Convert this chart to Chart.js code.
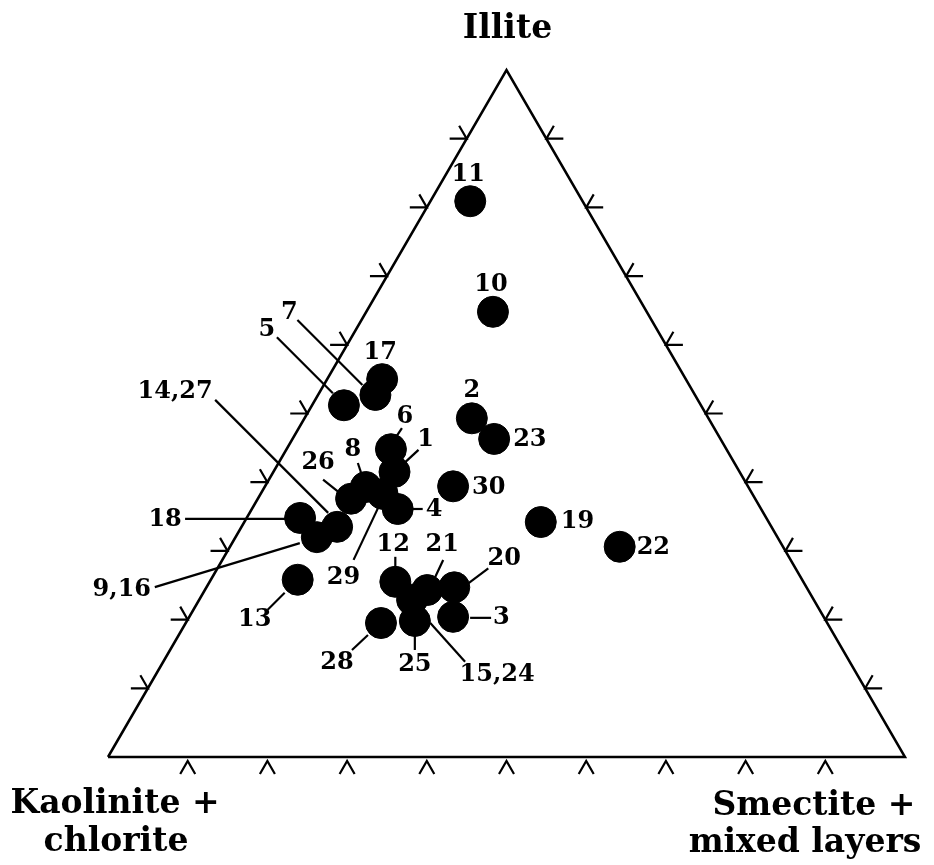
<!DOCTYPE html>
<html>
<head>
<meta charset="utf-8">
<script src="https://cdn.jsdelivr.net/npm/chart.js@4"></script>
<style>
  body { margin: 0; background: #fff; }
  #wrap { width: 934px; height: 865px; }
</style>
</head>
<body>
<div id="wrap"><canvas id="myChart" width="934" height="865"></canvas></div>
<script>
// sample numbers and clay fractions (%)
const samples   = ["11", "10", "17", "7", "5", "2", "23", "6", "1", "30", "8", "29", "26", "4", "18", "19", "14,27", "9,16", "22", "13", "12", "20", "21", "15,24", "3", "25", "28"];
const illite    = [80.9, 64.8, 55.0, 52.7, 51.2, 49.3, 46.3, 44.8, 41.5, 39.4, 39.3, 38.3, 37.6, 36.1, 34.8, 34.2, 33.5, 32.0, 30.6, 25.8, 25.5, 24.7, 24.3, 22.9, 20.4, 19.8, 19.5];
const smectite  = [5.0, 15.9, 6.9, 7.2, 4.0, 21.0, 25.3, 13.1, 15.2, 23.6, 12.7, 15.3, 11.7, 18.3, 6.7, 37.2, 12.0, 10.2, 48.9, 10.9, 23.3, 31.1, 27.9, 26.7, 33.1, 28.6, 24.5];
const kaolinite = illite.map((v, i) => +(100 - v - smectite[i]).toFixed(1));
const tickSteps = [10, 20, 30, 40, 50, 60, 70, 80, 90];

// label placement relative to each point (px): label dx,dy, align, leader line [x1,y1,x2,y2] or null
const labelPos = {
  "11": [-2, -26, "center", null],
  "10": [-2, -27, "center", null],
  "17": [-2, -26, "center", null],
  "7": [-86, -82, "center", [-13, -10, -78, -75]],
  "5": [-77, -75, "center", [-11, -12, -67, -68]],
  "2": [0, -28, "center", null],
  "23": [19, 1, "left", null],
  "6": [14, -32, "center", [5, -12, 11, -21]],
  "1": [31, -32, "center", [11, -10, 24, -22]],
  "30": [19, 1, "left", null],
  "8": [-13, -37, "center", [-4, -12, -8, -24]],
  "29": [-39, 84, "center", [-4, 13, -29, 66]],
  "26": [-33, -36, "center", [-13, -7, -28, -19]],
  "4": [28, 1, "left", [15, 0, 25, 0]],
  "18": [-135, 2, "center", [-13, 1, -115, 1]],
  "19": [20, 0, "left", null],
  "14,27": [-162, -135, "center", [-9, -14, -122, -127]],
  "9,16": [-195, 53, "center", [-17, 6, -162, 50]],
  "22": [17, 1, "left", null],
  "13": [-43, 40, "center", [-13, 13, -30, 30]],
  "12": [-2, -37, "center", [0, -15, 0, -25]],
  "20": [50, -29, "center", [14, -4, 34, -19]],
  "21": [15, -45, "center", [8, -13, 16, -30]],
  "15,24": [85, 75, "center", [18, 23, 53, 62]],
  "3": [40, 1, "left", [17, 1, 38, 1]],
  "25": [0, 44, "center", [0, 14, 0, 29]],
  "28": [-44, 40, "center", [-13, 12, -29, 27]]
};

const H = Math.sqrt(3) / 2;
function toXY(I, S) { return { x: S + I / 2, y: I * H }; }

const points = illite.map((v, i) => toXY(v, smectite[i]));
const corners = [toXY(0, 0), toXY(0, 100), toXY(100, 0), toXY(0, 0)];

const FONT = "DejaVu Serif";

const ternaryDecor = {
  id: 'ternaryDecor',
  beforeDatasetsDraw(chart) {
    const c = chart.ctx, xs = chart.scales.x, ys = chart.scales.y;
    c.save();
    c.strokeStyle = '#000';
    c.lineWidth = 2.2;
    c.lineCap = 'butt';
    const L = 15;
    tickSteps.forEach(t => {
      // bottom edge
      let p = toXY(0, t);
      let px = xs.getPixelForValue(p.x), py = ys.getPixelForValue(p.y) + 4;
      c.beginPath();
      c.moveTo(px - L * 0.5, py + L * H); c.lineTo(px, py); c.lineTo(px + L * 0.5, py + L * H);
      c.stroke();
      // left edge
      p = toXY(t, 0);
      px = xs.getPixelForValue(p.x); py = ys.getPixelForValue(p.y);
      c.beginPath();
      c.moveTo(px - L - 2, py); c.lineTo(px, py); c.lineTo(px - L * 0.5, py - L * H);
      c.stroke();
      // right edge
      p = toXY(t, 100 - t);
      px = xs.getPixelForValue(p.x); py = ys.getPixelForValue(p.y);
      c.beginPath();
      c.moveTo(px + L + 2, py); c.lineTo(px, py); c.lineTo(px + L * 0.5, py - L * H);
      c.stroke();
    });
    // leader lines
    samples.forEach((s, i) => {
      const lp = labelPos[s];
      if (!lp || !lp[3]) return;
      const px = xs.getPixelForValue(points[i].x), py = ys.getPixelForValue(points[i].y);
      const l = lp[3];
      c.beginPath();
      c.moveTo(px + l[0], py + l[1]); c.lineTo(px + l[2], py + l[3]);
      c.stroke();
    });
    c.restore();
  },
  afterDatasetsDraw(chart) {
    const c = chart.ctx, xs = chart.scales.x, ys = chart.scales.y;
    c.save();
    c.fillStyle = '#000';
    c.textBaseline = 'middle';
    c.font = 'bold 24px "' + FONT + '"';
    samples.forEach((s, i) => {
      const lp = labelPos[s];
      const px = xs.getPixelForValue(points[i].x), py = ys.getPixelForValue(points[i].y);
      c.textAlign = lp[2];
      c.fillText(s, px + lp[0], py + lp[1]);
    });
    // corner titles
    c.font = 'bold 33px "' + FONT + '"';
    c.textAlign = 'center';
    const top = toXY(100, 0), bl = toXY(0, 0), br = toXY(0, 100);
    const tx = xs.getPixelForValue(top.x), ty = ys.getPixelForValue(top.y);
    c.fillText("Illite", tx + 1, ty - 41);
    const lx = xs.getPixelForValue(bl.x), ly = ys.getPixelForValue(bl.y);
    c.fillText("Kaolinite +", lx + 7, ly + 47);
    c.fillText("chlorite", lx + 8, ly + 85);
    const rx = xs.getPixelForValue(br.x), ry = ys.getPixelForValue(br.y);
    c.fillText("Smectite +", rx - 91, ry + 49);
    c.fillText("mixed layers", rx - 100, ry + 86);
    c.restore();
  }
};

const ctx = document.getElementById('myChart').getContext('2d');
const myChart = new Chart(ctx, {
  type: 'scatter',
  data: {
    datasets: [
      {
        label: 'frame',
        data: corners,
        showLine: true,
        borderColor: '#000',
        borderWidth: 2.5,
        pointRadius: 0,
        fill: false,
        clip: false,
        order: 2
      },
      {
        label: 'samples',
        data: points,
        backgroundColor: '#000',
        borderColor: '#000',
        borderWidth: 1,
        pointRadius: 15.5,
        clip: false,
        order: 1
      }
    ]
  },
  plugins: [ternaryDecor],
  options: {
    responsive: false,
    animation: false,
    layout: { padding: { left: 108, right: 29, top: 70, bottom: 108 } },
    plugins: { legend: { display: false }, tooltip: { enabled: false } },
    scales: {
      x: { type: 'linear', min: 0, max: 100, display: false },
      y: { type: 'linear', min: 0, max: 100 * H, display: false }
    }
  }
});
</script>
</body>
</html>
